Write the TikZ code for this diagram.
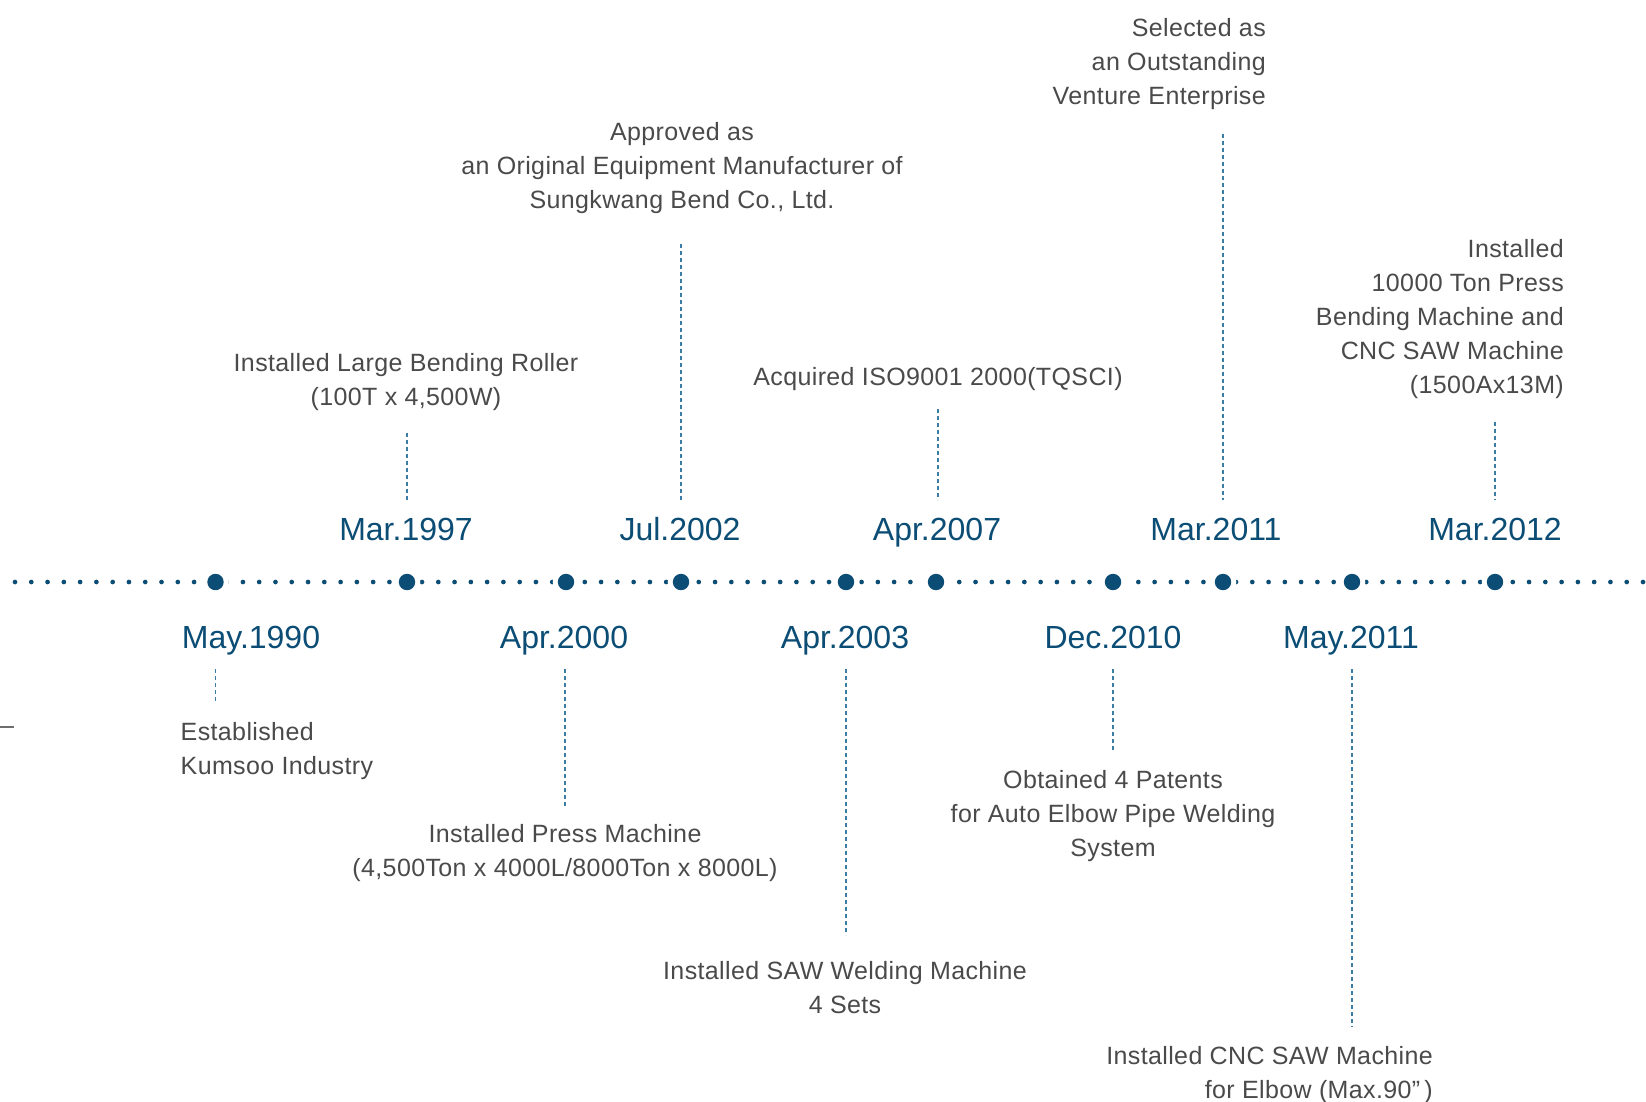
\documentclass[tikz,border=0pt]{standalone}
\usepackage{fontspec}
\setmainfont{Liberation Sans}
\newfontfamily\descfont[LetterSpace=1.5]{Liberation Sans}
\definecolor{tlblue}{HTML}{0B4D74}
\definecolor{tldash}{HTML}{3C7DA6}
\definecolor{tltext}{HTML}{4A4A4A}
\begin{document}
\begin{tikzpicture}[x=1pt,y=-1pt,
  datelbl/.style={font=\fontsize{32}{38}\selectfont, text=tlblue, inner sep=0pt, anchor=base},
  desc/.style={font=\descfont\fontsize{25}{34}\selectfont, text=tltext, inner sep=0pt, anchor=base},
  bigdot/.style={circle, fill=tlblue, minimum size=16.4pt, inner sep=0pt,
    preaction={fill=white, draw=white, line width=10pt}},
  conn/.style={tldash, line width=1.3pt, dash pattern=on 4pt off 3pt},
  axisline/.style={tlblue, line width=4.7pt, line cap=round, dash pattern=on 0pt off 16.28pt},
]
\useasboundingbox[fill=white] (0,0) rectangle (1646,1101);

% axis
\coordinate (axL) at (15,582);
\coordinate (axR) at (1646,582);
\draw[axisline] (axL) -- (axR);

% big dots
\node[bigdot] (p1990) at (215.5,582) {};
\node[bigdot] (p1997) at (407,582) {};
\node[bigdot] (p2000) at (566,582) {};
\node[bigdot] (p2002) at (681,582) {};
\node[bigdot] (p2003) at (846,582) {};
\node[bigdot] (p2007) at (936,582) {};
\node[bigdot] (p2010) at (1113,582) {};
\node[bigdot] (p2011a) at (1223,582) {};
\node[bigdot] (p2011b) at (1352,582) {};
\node[bigdot] (p2012) at (1495,582) {};

% top dates
\node[datelbl] (d1997) at (406,540) {Mar.1997};
\node[datelbl] (d2002) at (680,540) {Jul.2002};
\node[datelbl] (d2007) at (937,540) {Apr.2007};
\node[datelbl] (d2011a) at (1216,540) {Mar.2011};
\node[datelbl] (d2012) at (1495,540) {Mar.2012};

% bottom dates
\node[datelbl] (d1990) at (251,648) {May.1990};
\node[datelbl] (d2000) at (564,648) {Apr.2000};
\node[datelbl] (d2003) at (845,648) {Apr.2003};
\node[datelbl] (d2010) at (1113,648) {Dec.2010};
\node[datelbl] (d2011b) at (1351,648) {May.2011};

% top descriptions (anchor = baseline of last line)
\node[desc, align=center] (t1997) at (406,405) {Installed Large Bending Roller\\(100T x 4,500W)};
\node[desc, align=center] (t2002) at (682,208) {Approved as\\an Original Equipment Manufacturer of\\Sungkwang Bend Co., Ltd.};
\node[desc, align=center] (t2007) at (938,385) {Acquired ISO9001 2000(TQSCI)};
\node[desc, align=right, anchor=base east] (t2011a) at (1266,104) {Selected as\\an Outstanding\\Venture Enterprise};
\node[desc, align=right, anchor=base east] (t2012) at (1564,393) {Installed\\10000 Ton Press\\Bending Machine and\\CNC SAW Machine\\(1500Ax13M)};

% bottom descriptions
\node[desc, align=left, anchor=base west] (t1990) at (180.5,774) {Established\\Kumsoo Industry};
\node[desc, align=center] (t2000) at (565,876.5) {Installed Press Machine\\(4,500Ton x 4000L/8000Ton x 8000L)};
\node[desc, align=center] (t2003) at (845,1013) {Installed SAW Welding Machine\\4 Sets};
\node[desc, align=center] (t2010) at (1113,856) {Obtained 4 Patents\\for Auto Elbow Pipe Welding\\System};
\node[desc, align=right, anchor=base east] (t2011b) at (1433,1098) {Installed CNC SAW Machine\\for Elbow (Max.90”\,)};

% connectors
\coordinate (a1997) at (407,432.5); \coordinate (b1997) at (407,500);
\coordinate (a2002) at (681,243.5); \coordinate (b2002) at (681,500);
\coordinate (a2007) at (938,409);   \coordinate (b2007) at (938,500);
\coordinate (a2011a) at (1223,134); \coordinate (b2011a) at (1223,500);
\coordinate (a2012) at (1495,422);  \coordinate (b2012) at (1495,500);
\coordinate (a1990) at (215.5,669); \coordinate (b1990) at (215.5,703);
\coordinate (a2000) at (565,669);   \coordinate (b2000) at (565,806);
\coordinate (a2003) at (846,669);   \coordinate (b2003) at (846,935);
\coordinate (a2010) at (1113,669);  \coordinate (b2010) at (1113,752);
\coordinate (a2011b) at (1352,669); \coordinate (b2011b) at (1352,1027);
\foreach \n in {1997,2002,2007,2011a,2012,1990,2000,2003,2010,2011b}
  \draw[conn] (a\n) -- (b\n);

% small mark at left edge
\coordinate (m1) at (0,727); \coordinate (m2) at (14,727);
\draw[tltext!80, line width=1.3pt] (m1) -- (m2);
\end{tikzpicture}
\end{document}
